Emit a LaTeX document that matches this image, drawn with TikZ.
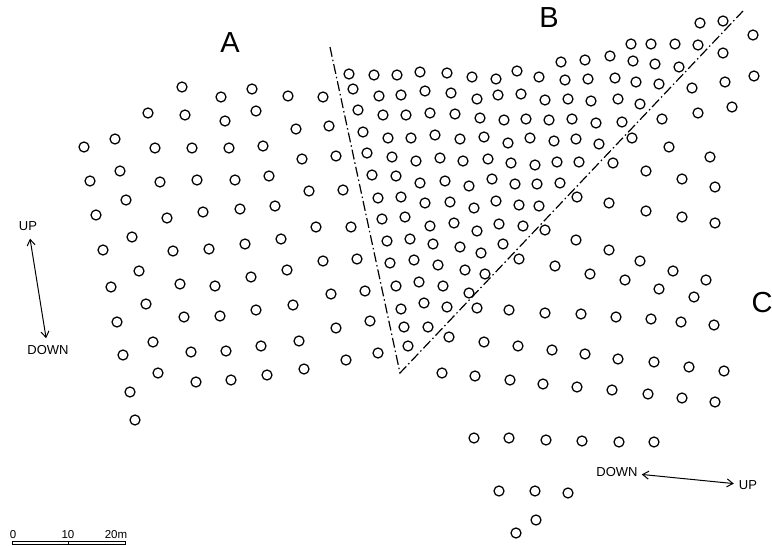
\documentclass[tikz,border=0pt]{standalone}
\usepackage{fontspec}
\setmainfont{Liberation Sans}
\usepackage{tikz}
\usetikzlibrary{arrows.meta}

\begin{document}
\begin{tikzpicture}[x=1pt,y=-1pt,>={Straight Barb[length=6pt,width=8pt]},
  hole/.style={draw,line width=1.25pt},
  fault/.style={line width=1.2pt,dash pattern=on 10pt off 3pt on 1.5pt off 3pt},
  zone/.style={font=\fontsize{29}{29}\selectfont,inner sep=0pt},
  dirlabel/.style={font=\fontsize{13}{13}\selectfont,inner sep=0pt},
  barlabel/.style={font=\fontsize{11.5}{11.5}\selectfont,inner sep=0pt}]
\useasboundingbox (0,0) rectangle (772,546);
% zone A
\foreach \x/\y in {182/87,221/97,252/89,288/96,323/97,148/113,185/115,225/121,256/111,296/129,329/126,
  84/147,115/139,155/148,192/148,229/148,263/146,302/159,336/156,90/181,120/171,160/182,197/180,235/180,269/176,309/191,343/190,
  96/215,126/200,167/218,203/212,240/209,275/206,316/227,351/227,103/250,132/237,173/251,209/249,245/244,281/239,323/261,357/259,
  139/271,251/277,287/270,111/287,180/284,215/286,331/294,365/291,146/304,117/322,184/317,220/316,256/310,293/305,336/328,370/321,
  153/342,123/355,191/352,226/351,261/346,299/341,158/373,196/382,231/380,267/375,304/369,346/360,378/353,130/392,135/420}
  \draw[hole] (\x,\y) circle (5pt);
% zone B
\foreach \x/\y in {349/74,374/75,397/75,420/72,447/73,472/77,496/79,517/71,539/77,353/89,379/96,401/95,425/91,451/93,477/99,498/95,521/94,
  358/110,383/115,406/115,430/113,455/114,480/118,504/120,526/119,363/132,388/138,411/138,435/135,460/139,484/137,508/143,530/138,
  367/153,392/157,416/161,440/158,463/161,488/159,511/163,535/165,372/175,396/176,420/183,445/181,469/186,492/179,515/184,537/184,
  378/198,401/197,425/203,450/202,474/208,496/201,519/205,539/206,382/219,405/217,430/226,454/223,477/231,499/224,523/226,
  387/241,410/239,433/244,460/247,481/253,503/244,390/263,414/260,438/265,465/270,485/274,396/286,419/282,443/286,469/293,
  401/309,424/303,447/307,404/327,428/327,408/346,700/23,723/21,631/44,651/44,675/44,698/45,561/62,585/60,610/56,633/61,655/64,679/67,
  565/80,588/79,615/78,636/82,659/84,545/100,568/99,591/101,618/99,640/104,549/120,572/119,596/123,622/122,554/141,576/139,599/144,
  557/162,579/162,560/183}
  \draw[hole] (\x,\y) circle (5pt);
% zone C
\foreach \x/\y in {753/35,723/53,754/76,725/82,692/88,698/113,732/107,662/119,632/138,669/147,710/157,
  613/163,646/171,682/179,715/187,577/197,609/203,646/211,682/217,715/223,
  545/230,576/240,609/250,640/261,673/271,519/259,555/266,590/274,625/280,659/289,694/297,706/280,
  477/308,509/310,545/313,581/314,616/317,651/319,681/322,714/325,449/337,484/342,518/346,552/350,585/354,618/359,654/362,689/367,724/371,
  442/373,475/376,510/380,543/384,577/387,612/390,648/394,682/398,715/402,474/438,509/438,546/440,582/441,619/442,654/442,
  499/491,535/491,568/493,536/520,516/533}
  \draw[hole] (\x,\y) circle (5pt);
% faults
\coordinate (topL) at (330,47);
\coordinate (apex) at (400,373);
\coordinate (topR) at (743,11);
\draw[fault] (topL) -- (apex) -- (topR);
\node[zone] (A) at (230,43) {A};
\node[zone] (B) at (549,18) {B};
\node[zone] (C) at (762,303) {C};
% dip arrows
\node[dirlabel] (upL) at (28,226) {UP};
\node[dirlabel] (downL) at (48,350) {DOWN};
\draw[<->,line width=1pt,shorten <=8pt,shorten >=7pt] (upL) -- (downL);
\node[dirlabel] (downR) at (617,472) {DOWN};
\node[dirlabel] (upR) at (748,485) {UP};
\draw[<->,line width=1pt,shorten <=4pt,shorten >=5pt] (downR) -- (upR);
% scale
\node[barlabel] (s0) at (13,535) {0};
\node[barlabel] (s10) at (68,535) {10};
\node[barlabel] (s20) at (116,535) {20m};
\draw[line width=0.7pt] (12,541.5) rectangle (125,544.5);
\draw[line width=0.7pt] (68,541.5) -- (68,544.5);
\end{tikzpicture}
\end{document}
